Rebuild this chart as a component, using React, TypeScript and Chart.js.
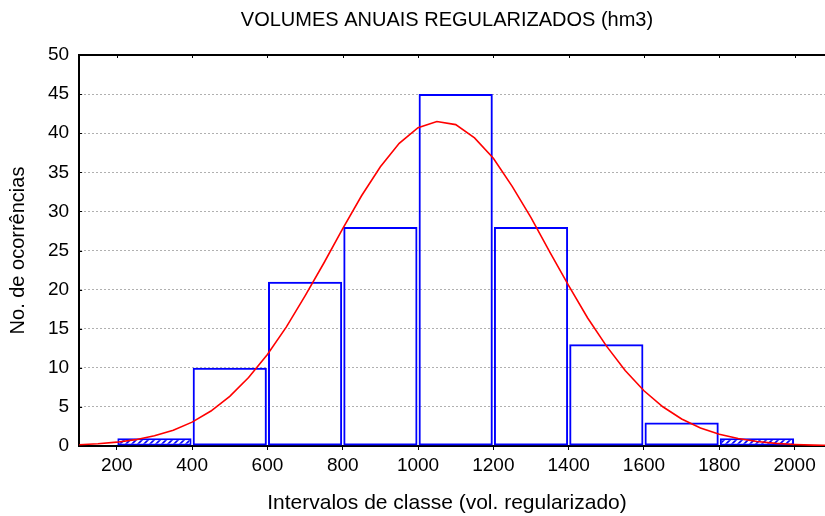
import React, { useEffect, useRef } from "react";
import { Chart, registerables } from "chart.js";

Chart.register(...registerables);

const TITLE = "VOLUMES ANUAIS REGULARIZADOS (hm3)";
const X_TITLE = "Intervalos de classe (vol. regularizado)";
const Y_TITLE = "No. de ocorrências";

// class midpoints and counts
const binCenters = [300, 500, 700, 900, 1100, 1300, 1500, 1700, 1900];
const binCounts = [1, 10, 21, 28, 45, 28, 13, 3, 1];
const hatchedBins = [true, false, false, false, false, false, false, false, true];

// fitted normal curve
const curveX = [100, 150, 200, 250, 300, 350, 400, 450, 500, 550, 600, 650, 700, 750, 800, 850, 900, 950, 1000, 1050, 1100, 1150, 1200, 1250, 1300, 1350, 1400, 1450, 1500, 1550, 1600, 1650, 1700, 1750, 1800, 1850, 1900, 1950, 2000, 2050, 2100];
const curveY = [0.16, 0.29, 0.49, 0.81, 1.3, 2.02, 3.05, 4.47, 6.35, 8.76, 11.7, 15.2, 19.2, 23.4, 27.8, 32.0, 35.7, 38.7, 40.7, 41.5, 41.1, 39.4, 36.8, 33.2, 29.2, 24.8, 20.5, 16.4, 12.8, 9.65, 7.06, 5.02, 3.46, 2.31, 1.5, 0.95, 0.58, 0.34, 0.2, 0.11, 0.06];

const xTicks = [200, 400, 600, 800, 1000, 1200, 1400, 1600, 1800, 2000];
const yTicks = [0, 5, 10, 15, 20, 25, 30, 35, 40, 45, 50];

const FONT = "'Liberation Sans', Arial, sans-serif";

function makeHatch(): CanvasPattern | string {
  const c = document.createElement("canvas");
  c.width = 6;
  c.height = 6;
  const g = c.getContext("2d");
  if (!g) return "#ffffff";
  g.fillStyle = "#ffffff";
  g.fillRect(0, 0, 6, 6);
  g.strokeStyle = "#0000ff";
  g.lineWidth = 1.6;
  g.beginPath();
  g.moveTo(-1, 7);
  g.lineTo(7, -1);
  g.moveTo(-4, 4);
  g.lineTo(4, -4);
  g.moveTo(2, 10);
  g.lineTo(10, 2);
  g.stroke();
  const p = g.createPattern(c, "repeat");
  return p || "#ffffff";
}

const framePlugin = {
  id: "frameTop",
  afterDraw(chart: any) {
    const { ctx, chartArea } = chart;
    const xs = chart.scales.x;
    ctx.save();
    ctx.strokeStyle = "#000000";
    ctx.lineWidth = 2;
    ctx.beginPath();
    ctx.moveTo(chartArea.left, chartArea.top);
    ctx.lineTo(chartArea.right, chartArea.top);
    ctx.stroke();
    ctx.lineWidth = 1;
    ctx.beginPath();
    for (const v of xTicks) {
      const px = Math.round(xs.getPixelForValue(v)) + 0.5;
      ctx.moveTo(px, chartArea.top);
      ctx.lineTo(px, chartArea.top + 3);
    }
    const ys = chart.scales.y;
    for (const v of yTicks) {
      const py = Math.round(ys.getPixelForValue(v)) + 0.5;
      ctx.moveTo(chartArea.left, py);
      ctx.lineTo(chartArea.left + 3, py);
    }
    ctx.stroke();
    ctx.restore();
  },
};

export default function App() {
  const ref = useRef<HTMLCanvasElement | null>(null);

  useEffect(() => {
    if (!ref.current) return;
    const hatch = makeHatch();
    const chart = new Chart(ref.current, {
      type: "bar",
      data: {
        datasets: [
          {
            type: "line",
            label: "Normal",
            data: curveX.map((x, i) => ({ x, y: curveY[i] })),
            borderColor: "#ff0000",
            borderWidth: 1.6,
            pointRadius: 0,
            tension: 0,
            fill: false,
            order: 0,
          } as any,
          {
            type: "bar",
            label: "Ocorrências",
            data: binCenters.map((x, i) => ({ x, y: binCounts[i] })),
            backgroundColor: hatchedBins.map((h) => (h ? hatch : "rgba(0,0,0,0)")),
            borderColor: "#0000ff",
            borderWidth: 2,
            borderSkipped: false,
            barPercentage: 0.985,
            categoryPercentage: 1,
            order: 1,
          } as any,
        ],
      },
      options: {
        responsive: false,
        animation: false,
        layout: { padding: { left: 6, right: 0, top: 4, bottom: 0 } },
        plugins: {
          legend: { display: false },
          tooltip: { enabled: false },
          title: {
            display: true,
            text: TITLE,
            color: "#000000",
            font: { family: FONT, size: 20, weight: "normal" },
            padding: { top: 4, bottom: 23 },
          },
          subtitle: {
            display: true,
            position: "bottom",
            text: X_TITLE,
            color: "#000000",
            font: { family: FONT, size: 21, weight: "normal" },
            padding: { top: 10, bottom: 0 },
          },
        },
        scales: {
          x: {
            type: "linear",
            min: 100,
            max: 2248,
            offset: false,
            afterBuildTicks: (axis: any) => {
              axis.ticks = xTicks.map((v) => ({ value: v }));
            },
            ticks: {
              color: "#000000",
              font: { family: FONT, size: 19 },
              maxRotation: 0,
              autoSkip: false,
              padding: 4,
              callback: (v: any) => String(v),
            },
            grid: {
              display: true,
              offset: false,
              drawOnChartArea: false,
              drawTicks: true,
              tickLength: 4,
              color: "#000000",
            },
            border: { display: true, color: "#000000", width: 2 },
          },
          y: {
            type: "linear",
            min: 0,
            max: 50,
            afterBuildTicks: (axis: any) => {
              axis.ticks = yTicks.map((v) => ({ value: v }));
            },
            ticks: {
              color: "#000000",
              font: { family: FONT, size: 19 },
              padding: 10,
              callback: (v: any) => String(v),
            },
            grid: {
              display: true,
              drawTicks: false,
              color: "#b0b0b0",
              lineWidth: 1,
            },
            border: { display: true, color: "#000000", width: 2, dash: [2, 2] } as any,
            title: {
              display: true,
              text: Y_TITLE,
              color: "#000000",
              font: { family: FONT, size: 20, weight: "normal" },
              padding: { top: 0, bottom: 8 },
            },
          },
        },
      } as any,
      plugins: [framePlugin],
    });
    return () => chart.destroy();
  }, []);

  return (
    <div style={{ position: "fixed", left: 0, top: 0, width: 825, height: 516, overflow: "hidden", background: "#ffffff" }}>
      <canvas ref={ref} width={888} height={516} style={{ display: "block" }} />
    </div>
  );
}
